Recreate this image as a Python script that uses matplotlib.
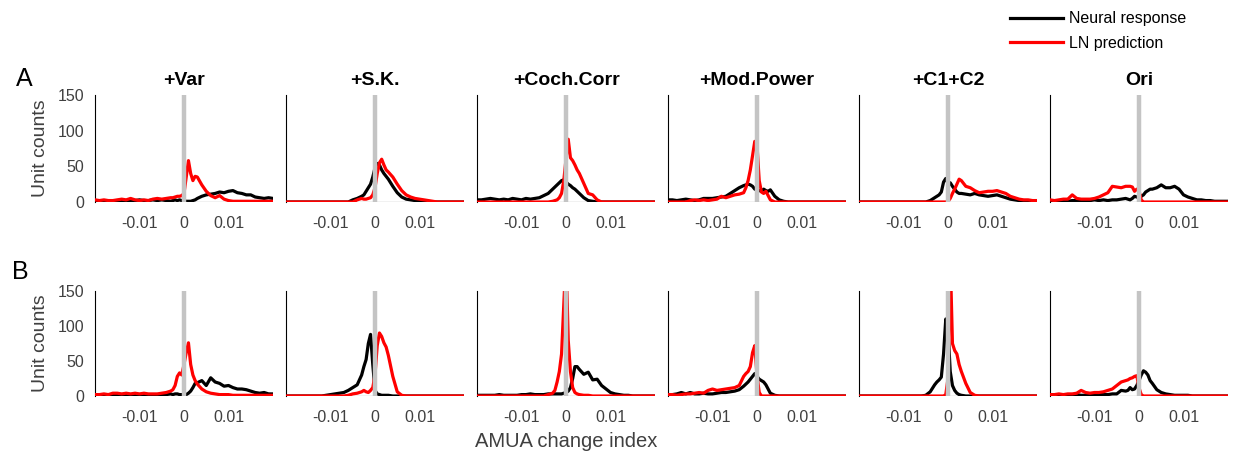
import numpy as np
import matplotlib
matplotlib.use("Agg")
import matplotlib.pyplot as plt

plt.rcParams['font.family'] = ['Liberation Sans', 'DejaVu Sans']

# shared x grid (AMUA change index): 0.001 steps, 0.0005 steps near zero
x_grid = [-0.020, -0.019, -0.018, -0.017, -0.016, -0.015, -0.014, -0.013, -0.012,
          -0.011, -0.010, -0.009, -0.008, -0.007, -0.006, -0.005, -0.004, -0.003,
          -0.0025, -0.002, -0.0015, -0.001, -0.0005, 0.0, 0.0005, 0.001, 0.0015, 0.002, 0.0025,
          0.003, 0.004, 0.005, 0.006, 0.007, 0.008, 0.009, 0.010, 0.011, 0.012,
          0.013, 0.014, 0.015, 0.016, 0.017, 0.018, 0.019, 0.020]

conditions = ['+Var', '+S.K.', '+Coch.Corr', '+Mod.Power', '+C1+C2', 'Ori']
row_labels = ['A', 'B']
series_labels = ['Neural response', 'LN prediction']
x_ticks = [-0.01, 0, 0.01]
x_tick_labels = ['-0.01', '0', '0.01']
y_ticks = [0, 50, 100, 150]

# ---------- Row A ----------
A_var_neural = [2, 2, 1, 2, 1, 2, 1, 1, 2, 2, 3, 2, 2, 3, 2, 3, 2, 1,
                2, 3, 2, 3, 2, 2, 1, 1, 1, 2, 3,
                5, 8, 10, 11, 12, 14, 13, 15, 16, 13, 12, 10, 10, 7, 6, 5, 6, 5]
A_var_ln = [3, 2, 3, 2, 2, 3, 4, 3, 5, 3, 2, 3, 2, 4, 5, 4, 5, 6,
            6, 7, 8, 8, 9, 12, 35, 58, 40, 30, 36,
            35, 24, 15, 9, 6, 9, 4, 2, 1, 1, 1, 1, 1, 1, 1, 1, 1, 1]

A_sk_neural = [0, 0, 0, 0, 0, 0, 0, 0, 0, 0, 0, 0, 0, 0, 0, 3, 5, 8,
               10, 15, 20, 25, 35, 48, 54, 52, 45, 40, 36,
               32, 22, 13, 7, 4, 3, 2, 1, 0, 0, 0, 0, 0, 0, 0, 0, 0, 0]
A_sk_ln = [0, 0, 0, 0, 0, 0, 0, 0, 0, 0, 0, 0, 0, 0, 0, 0, 3, 5,
           4, 4, 5, 6, 10, 20, 40, 55, 60, 52, 45,
           42, 35, 25, 16, 10, 7, 5, 4, 3, 2, 1, 0, 0, 0, 0, 0, 0, 0]

A_coch_neural = [3, 3, 4, 5, 4, 3, 4, 3, 5, 4, 3, 5, 4, 5, 6, 9, 12, 18,
                 21, 24, 27, 30, 31, 28, 25, 23, 20, 18, 15,
                 12, 6, 2, 1, 0, 0, 0, 0, 0, 0, 0, 0, 0, 0, 0, 0, 0, 0]
A_coch_ln = [0, 0, 0, 0, 0, 0, 0, 0, 0, 0, 0, 0, 0, 0, 0, 0, 0, 1,
             2, 3, 6, 12, 30, 60, 88, 62, 58, 52, 45,
             40, 26, 12, 10, 3, 0, 0, 0, 0, 0, 0, 0, 0, 0, 0, 0, 0, 0]

A_mod_neural = [3, 3, 2, 3, 4, 3, 2, 3, 5, 5, 5, 6, 7, 8, 12, 16, 20, 23,
                24, 25, 24, 22, 18, 17, 16, 15, 18, 16, 15,
                17, 8, 3, 1, 0, 0, 0, 0, 0, 0, 0, 0, 0, 0, 0, 0, 0, 0]
A_mod_ln = [0, 0, 0, 0, 0, 2, 3, 2, 3, 2, 3, 4, 8, 6, 8, 10, 11, 13,
            20, 30, 45, 65, 85, 80, 30, 14, 12, 15, 9,
            3, 0, 0, 0, 0, 0, 0, 0, 0, 0, 0, 0, 0, 0, 0, 0, 0, 0]

A_c1c2_neural = [0, 0, 0, 0, 0, 0, 0, 0, 0, 0, 0, 0, 0, 0, 0, 0, 2, 6,
                 8, 10, 14, 28, 33, 26, 27, 22, 18, 14, 12,
                 12, 11, 10, 12, 10, 9, 8, 9, 10, 8, 6, 4, 3, 2, 2, 1, 1, 1]
A_c1c2_ln = [0, 0, 0, 0, 0, 0, 0, 0, 0, 0, 0, 0, 0, 0, 0, 0, 0, 0,
             0, 0, 0, 0, 0, 1, 5, 12, 18, 25, 32,
             30, 22, 20, 16, 13, 14, 15, 15, 16, 14, 12, 8, 6, 4, 3, 3, 2, 2]

A_ori_neural = [1, 1, 2, 2, 1, 2, 2, 1, 2, 2, 3, 2, 3, 2, 3, 3, 4, 5,
                4, 3, 5, 8, 7, 6, 8, 10, 14, 16, 18,
                18, 20, 24, 20, 20, 22, 18, 10, 7, 5, 3, 3, 2, 2, 1, 1, 1, 1]
A_ori_ln = [3, 2, 3, 4, 4, 10, 5, 4, 4, 4, 5, 7, 10, 13, 22, 21, 20, 22,
            22, 22, 21, 15, 18, 16, 3, 0, 0, 0, 0,
            0, 0, 0, 0, 0, 0, 0, 0, 0, 0, 0, 0, 0, 0, 0, 0, 0, 0]

# ---------- Row B ----------
B_var_neural = [1, 1, 1, 2, 1, 2, 2, 1, 2, 1, 2, 2, 2, 2, 1, 2, 2, 3,
                2, 3, 3, 2, 2, 2, 2, 4, 7, 12, 18,
                19, 22, 15, 26, 20, 18, 14, 15, 12, 10, 10, 9, 7, 5, 4, 5, 3, 3]
B_var_ln = [2, 2, 3, 2, 4, 4, 3, 4, 3, 4, 3, 4, 3, 3, 3, 4, 5, 7,
            9, 15, 28, 33, 30, 45, 62, 76, 45, 30, 22,
            17, 10, 6, 4, 3, 2, 2, 2, 1, 1, 1, 1, 1, 1, 1, 1, 1, 1]

B_sk_neural = [0, 0, 0, 0, 0, 0, 0, 0, 0, 1, 2, 3, 4, 5, 8, 12, 16, 30,
               42, 52, 75, 88, 45, 8, 3, 2, 1, 1, 1,
               1, 0, 0, 0, 0, 0, 0, 0, 0, 0, 0, 0, 0, 0, 0, 0, 0, 0]
B_sk_ln = [0, 0, 0, 0, 0, 0, 0, 0, 0, 0, 0, 0, 0, 0, 1, 3, 4, 6,
           8, 6, 5, 8, 12, 30, 72, 90, 85, 76, 70,
           58, 28, 6, 1, 0, 0, 0, 0, 0, 0, 0, 0, 0, 0, 0, 0, 0, 0]

B_coch_neural = [1, 1, 1, 1, 1, 2, 1, 1, 1, 1, 2, 2, 3, 2, 2, 2, 3, 3,
                 3, 3, 3, 3, 4, 5, 7, 12, 25, 42, 42,
                 38, 31, 34, 23, 24, 15, 10, 5, 3, 2, 1, 1, 0, 0, 0, 0, 0, 0]
B_coch_ln = [0, 0, 0, 0, 0, 0, 0, 0, 0, 0, 0, 0, 0, 0, 0, 0, 2, 4,
             8, 20, 35, 60, 130, 200, 80, 35, 12, 5, 3,
             2, 1, 1, 0, 0, 0, 0, 0, 0, 0, 0, 0, 0, 0, 0, 0, 0, 0]

B_mod_neural = [2, 2, 3, 5, 3, 5, 3, 3, 4, 3, 3, 4, 5, 5, 6, 7, 9, 14,
                17, 20, 24, 28, 32, 28, 24, 22, 20, 16, 10,
                4, 1, 0, 0, 0, 0, 0, 0, 0, 0, 0, 0, 0, 0, 0, 0, 0, 0]
B_mod_ln = [2, 2, 1, 2, 3, 3, 4, 5, 4, 8, 10, 8, 9, 10, 11, 12, 15, 28,
            32, 35, 42, 62, 72, 30, 5, 0, 0, 0, 0,
            0, 0, 0, 0, 0, 0, 0, 0, 0, 0, 0, 0, 0, 0, 0, 0, 0, 0]

B_c1c2_neural = [0, 0, 0, 0, 0, 0, 0, 0, 0, 0, 0, 0, 0, 0, 0, 1, 6, 16,
                 20, 23, 27, 60, 110, 95, 35, 15, 8, 4, 2,
                 1, 0, 0, 0, 0, 0, 0, 0, 0, 0, 0, 0, 0, 0, 0, 0, 0, 0]
B_c1c2_ln = [0, 0, 0, 0, 0, 0, 0, 0, 0, 0, 0, 0, 0, 0, 0, 0, 0, 0,
             0, 0, 0, 0, 2, 25, 200, 75, 65, 60, 45,
             35, 18, 5, 1, 0, 0, 0, 0, 0, 0, 0, 0, 0, 0, 0, 0, 0, 0]

B_ori_neural = [1, 1, 1, 1, 1, 1, 2, 1, 1, 2, 1, 2, 2, 2, 3, 3, 8, 7,
                8, 12, 9, 10, 15, 22, 30, 36, 34, 30, 22,
                18, 9, 5, 3, 2, 1, 1, 1, 1, 0, 0, 0, 0, 0, 0, 0, 0, 0]
B_ori_ln = [2, 2, 3, 2, 3, 3, 4, 8, 5, 4, 5, 5, 6, 8, 10, 15, 20, 22,
            23, 25, 26, 28, 29, 12, 2, 0, 0, 0, 0,
            0, 0, 0, 0, 0, 0, 0, 0, 0, 0, 0, 0, 0, 0, 0, 0, 0, 0]

rows = [
    [(A_var_neural, A_var_ln), (A_sk_neural, A_sk_ln), (A_coch_neural, A_coch_ln),
     (A_mod_neural, A_mod_ln), (A_c1c2_neural, A_c1c2_ln), (A_ori_neural, A_ori_ln)],
    [(B_var_neural, B_var_ln), (B_sk_neural, B_sk_ln), (B_coch_neural, B_coch_ln),
     (B_mod_neural, B_mod_ln), (B_c1c2_neural, B_c1c2_ln), (B_ori_neural, B_ori_ln)],
]

W, H = 1233, 455
fig = plt.figure(figsize=(W / 100, H / 100), dpi=100)

tick_color = '#404040'
ax_left_px = [95, 286, 477, 668, 859, 1050]
ax_w_px = 178
row_top_px = [95, 291]
row_h_px = [107, 105]

handles = None
for r in range(2):
    for c in range(6):
        l = ax_left_px[c] / W
        b = 1 - (row_top_px[r] + row_h_px[r]) / H
        ax = fig.add_axes([l, b, ax_w_px / W, row_h_px[r] / H])
        neural, ln = rows[r][c]
        ax.axhline(0, color='black', lw=0.8, zorder=1)
        h1, = ax.plot(x_grid, neural, color='black', lw=2.3, zorder=3,
                      solid_joinstyle='round')
        h2, = ax.plot(x_grid, ln, color='#ff0000', lw=2.3, zorder=4,
                      solid_joinstyle='round')
        ax.axvline(0, color='#c4c4c4', lw=3.2, zorder=5)
        handles = [h1, h2]
        ax.set_xlim(-0.02, 0.02)
        ax.set_ylim(0, 150)
        for s in ['top', 'right', 'bottom']:
            ax.spines[s].set_visible(False)
        ax.spines['left'].set_linewidth(0.8)
        ax.spines['left'].set_color('black')
        ax.set_xticks(x_ticks)
        ax.set_xticklabels(x_tick_labels)
        ax.tick_params(axis='x', length=0, pad=10, labelsize=11.5, labelcolor=tick_color)
        ax.set_yticks(y_ticks)
        if c == 0:
            ax.tick_params(axis='y', length=0, pad=8, labelsize=11.5, labelcolor=tick_color)
            ax.set_ylabel('Unit counts', fontsize=14, color=tick_color, labelpad=6)
        else:
            ax.tick_params(axis='y', length=0, labelleft=False)
        if r == 0:
            ax.set_title(conditions[c], fontsize=14, fontweight='bold', pad=7)
        if r == 1 and c == 2:
            ax.set_xlabel('AMUA change index', fontsize=14.5, color=tick_color, labelpad=5)

fig.text(24 / W, 1 - 79 / H, row_labels[0], fontsize=18, ha='center', va='center')
fig.text(20 / W, 1 - 272 / H, row_labels[1], fontsize=18, ha='center', va='center')

fig.legend(handles, series_labels, loc='upper left',
           bbox_to_anchor=(1004 / W, 1 - 5 / H), frameon=False,
           fontsize=11.5, handlelength=3.3, handletextpad=0.35, labelspacing=0.6,
           borderaxespad=0)

fig.savefig('out.png', dpi=100)
